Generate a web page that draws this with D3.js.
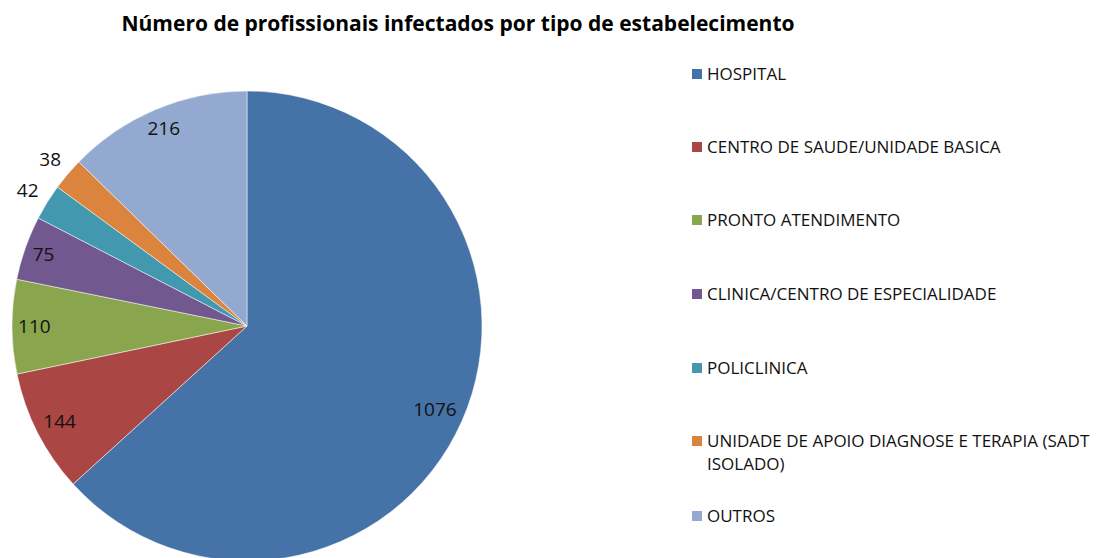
<!DOCTYPE html>
<html>
<head>
<meta charset="utf-8">
<script src="https://cdn.jsdelivr.net/npm/d3@7"></script>
<style>
  body { margin: 0; background: #fff; }
  text { font-family: "Open Sans", "Liberation Sans", sans-serif; }
</style>
</head>
<body>
<div id="chart"></div>
<script>
const categories = [
  'HOSPITAL',
  'CENTRO DE SAUDE/UNIDADE BASICA',
  'PRONTO ATENDIMENTO',
  'CLINICA/CENTRO DE ESPECIALIDADE',
  'POLICLINICA',
  'UNIDADE DE APOIO DIAGNOSE E TERAPIA (SADT ISOLADO)',
  'OUTROS'
];
const values = [1076, 144, 110, 75, 42, 38, 216];
const colors = ['#4572A7', '#AA4643', '#89A54E', '#71588F', '#4198AF', '#DB843D', '#93A9CF'];

const width = 1096;
const height = 558;
const cx = 247, cy = 326, radius = 235;

const svg = d3.select('#chart')
  .append('svg')
  .attr('width', width)
  .attr('height', height);

svg.append('text')
  .attr('x', 458)
  .attr('y', 31)
  .attr('text-anchor', 'middle')
  .attr('font-size', 21)
  .attr('font-weight', 'bold')
  .attr('fill', '#000')
  .text('Número de profissionais infectados por tipo de estabelecimento');

const pie = d3.pie().sort(null).value(d => d)(values);
const arc = d3.arc().innerRadius(0).outerRadius(radius);

const g = svg.append('g').attr('transform', `translate(${cx},${cy})`);

g.selectAll('path')
  .data(pie)
  .join('path')
    .attr('d', arc)
    .attr('fill', (d, i) => colors[i])
    .attr('stroke', '#fff')
    .attr('stroke-width', 0.5);

// inside-end labels (box pushed against the rim), small slices go outside
g.selectAll('text.lbl')
  .data(pie)
  .join('text')
    .attr('class', 'lbl')
    .attr('text-anchor', 'middle')
    .attr('dy', '0.35em')
    .attr('font-size', 19)
    .attr('fill', '#111')
    .text(d => d.value)
    .each(function(d) {
      const a = (d.startAngle + d.endAngle) / 2;
      const ux = Math.sin(a), uy = -Math.cos(a);
      const bb = this.getBBox();
      const ext = bb.width / 2 * Math.abs(ux) + 9 * Math.abs(uy);
      const r = d.value < 50 ? 258 : 229 - ext;
      d3.select(this).attr('transform', `translate(${ux * r},${uy * r})`);
    });

// legend
const rowsY = [74, 147, 220, 294, 368, 441, 516];
const leg = svg.append('g');
categories.forEach((c, i) => {
  leg.append('rect')
    .attr('x', 692)
    .attr('y', rowsY[i] - 5)
    .attr('width', 10)
    .attr('height', 10)
    .attr('fill', colors[i]);
  const t = leg.append('text')
    .attr('x', 707)
    .attr('y', rowsY[i])
    .attr('dy', '0.35em')
    .attr('font-size', 17)
    .attr('fill', '#111');
  if (c.length > 40) {
    t.append('tspan').text('UNIDADE DE APOIO DIAGNOSE E TERAPIA (SADT');
    t.append('tspan').attr('x', 707).attr('dy', 23).text('ISOLADO)');
  } else {
    t.text(c);
  }
});
</script>
</body>
</html>
